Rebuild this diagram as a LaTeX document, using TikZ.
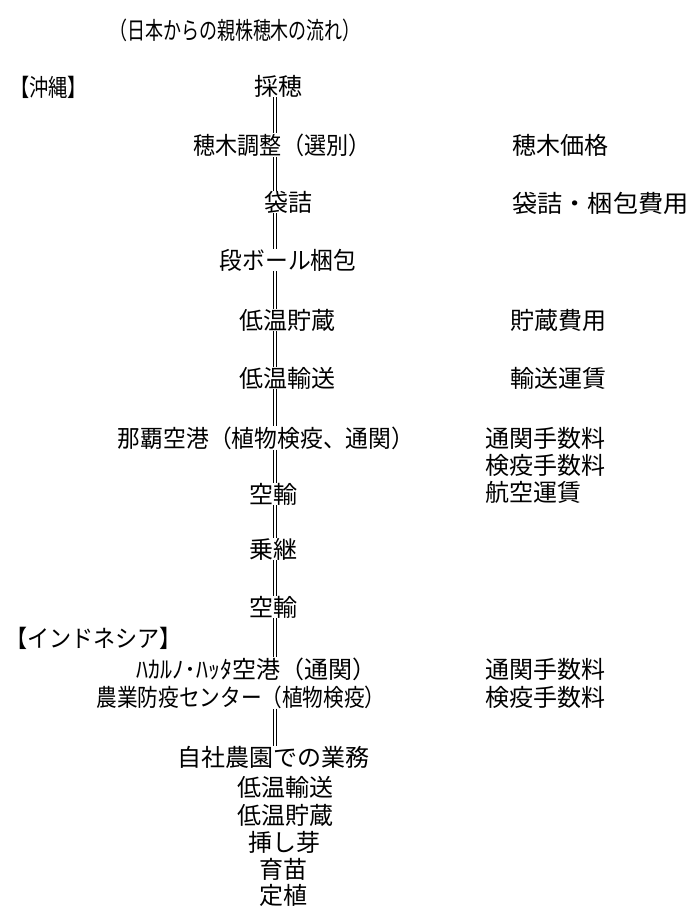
\documentclass[tikz,border=0pt]{standalone}
\usepackage{fontspec}
\newfontfamily\cjk{Noto Sans CJK JP}
\tikzset{
  lbl/.style={inner sep=0pt, font=\cjk\fontsize{24}{24}\selectfont},
  side/.style={lbl, anchor=west},
  dbl/.style={double, double distance=1.8pt, line width=1.1pt, draw=black}
}
\begin{document}
\begin{tikzpicture}[x=1pt,y=-1pt]
\useasboundingbox[fill=white] (0,0) rectangle (692,919);
\coordinate (spine) at (275,0);
% title
\node[lbl] (title) at (235,30) {\scalebox{0.75}[1]{（日本からの親株穂木の流れ）}};
\node[side] (oki) at (10,87) {\scalebox{0.8}[1]{【沖縄】}};
% main flow
\node[lbl] (n1) at (278,86) {採穂};
\node[lbl] (n2) at (282,145) {\scalebox{0.92}[1]{穂木調整（選別）}};
\node[lbl] (n3) at (288,202) {袋詰};
\node[lbl] (n4) at (288,260) {\scalebox{0.95}[1]{段ボール梱包}};
\node[lbl] (n5) at (287,320) {低温貯蔵};
\node[lbl] (n6) at (287,378) {低温輸送};
\node[lbl] (n7) at (266,438) {\scalebox{0.95}[1]{那覇空港（植物検疫、通関）}};
\node[lbl] (n8) at (273,494) {空輸};
\node[lbl] (n9) at (273,549) {乗継};
\node[lbl] (n10) at (273,607) {空輸};
\node[side] (indo) at (5,638) {\scalebox{0.92}[1]{【インドネシア】}};
\node[lbl] (n11) at (256,669) {ﾊｶﾙﾉ･ﾊｯﾀ空港（通関）};
\node[lbl] (n12) at (241,697) {\scalebox{0.86}[1]{農業防疫センター（植物検疫）}};
\node[lbl] (n13) at (273,757) {自社農園での業務};
\node[lbl] (n14) at (285,787) {低温輸送};
\node[lbl] (n15) at (285,815) {低温貯蔵};
\node[lbl] (n16) at (284,842) {挿し芽};
\node[lbl] (n17) at (283,869) {育苗};
\node[lbl] (n18) at (283,895) {定植};
% cost column
\node[side] (c1) at (512,145) {穂木価格};
\node[side] (c2) at (512,203) {\scalebox{1.05}[1]{袋詰・梱包費用}};
\node[side] (c3) at (510,320) {貯蔵費用};
\node[side] (c4) at (510,378) {輸送運賃};
\node[side] (c5) at (485,438) {通関手数料};
\node[side] (c6) at (485,465) {検疫手数料};
\node[side] (c7) at (485,492) {航空運賃};
\node[side] (c8) at (485,669) {通関手数料};
\node[side] (c9) at (485,697) {検疫手数料};
% connectors
\draw[dbl] (n1.south -| spine) -- (n2.north -| spine);
\draw[dbl] (n2.south -| spine) -- (n3.north -| spine);
\draw[dbl] (n3.south -| spine) -- (n4.north -| spine);
\draw[dbl] (n4.south -| spine) -- (n5.north -| spine);
\draw[dbl] (n5.south -| spine) -- (n6.north -| spine);
\draw[dbl] (n6.south -| spine) -- (n7.north -| spine);
\draw[dbl] (n7.south -| spine) -- (n8.north -| spine);
\draw[dbl] (n8.south -| spine) -- (n9.north -| spine);
\draw[dbl] (n9.south -| spine) -- (n10.north -| spine);
\draw[dbl] (n10.south -| spine) -- (n11.north -| spine);
\draw[dbl] (n12.south -| spine) -- (n13.north -| spine);
\end{tikzpicture}
\end{document}
